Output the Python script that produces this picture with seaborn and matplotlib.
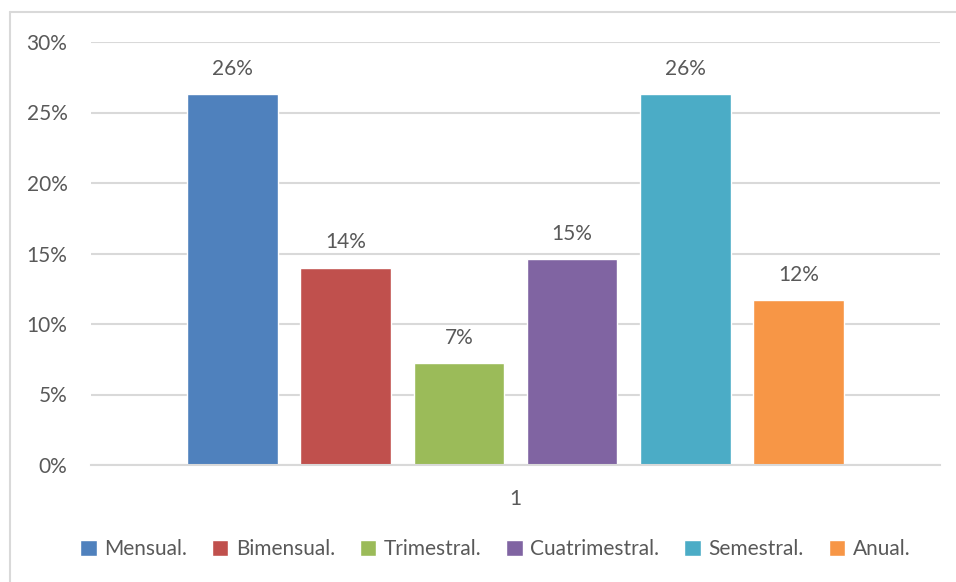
import matplotlib
matplotlib.use("Agg")
import matplotlib.pyplot as plt
from matplotlib.lines import Line2D
from matplotlib.ticker import FuncFormatter, MultipleLocator
import seaborn as sns
import pandas as pd

# Data
category = ["1"]
series = ["Mensual.", "Bimensual.", "Trimestral.", "Cuatrimestral.", "Semestral.", "Anual."]
values = [26.3, 14.0, 7.2, 14.6, 26.3, 11.7]
colors = ["#4F81BD", "#C0504D", "#9BBB59", "#8064A2", "#4BACC6", "#F79646"]

df = pd.DataFrame({"cat": category * len(series), "serie": series, "valor": values})

sns.set_theme(style="white")
plt.rcParams["font.family"] = ["Lato", "DejaVu Sans"]
text_color = "#595959"
grid_color = "#D9D9D9"
fs = 15

fig = plt.figure(figsize=(9.56, 5.82), dpi=100)
ax = fig.add_axes([91 / 956, (582 - 465) / 582, (940 - 91) / 956, (465 - 42) / 582])

sns.barplot(data=df, x="cat", y="valor", hue="serie", hue_order=series,
            palette=colors, width=0.8, gap=0.2, saturation=1, ax=ax, legend=True)

ax.set_xlim(-0.5, 0.5)
ax.set_ylim(0, 30)
ax.yaxis.set_major_locator(MultipleLocator(5))
ax.yaxis.set_major_formatter(FuncFormatter(lambda v, p: f"{v:.0f}%"))
ax.grid(axis="y", color=grid_color, linewidth=1.5)
ax.set_axisbelow(True)
for s in ["top", "right", "left"]:
    ax.spines[s].set_visible(False)
ax.spines["bottom"].set_color(grid_color)
ax.spines["bottom"].set_linewidth(1.5)
ax.tick_params(axis="both", length=0, colors=text_color, labelsize=fs)
ax.tick_params(axis="y", pad=17)
ax.tick_params(axis="x", pad=17)
ax.set_xlabel("")
ax.set_ylabel("")

for cont, v in zip(ax.containers, values):
    ax.bar_label(cont, labels=[f"{v:.0f}%"], padding=11, fontsize=fs, color=text_color)

handles, labels = ax.get_legend_handles_labels()
ax.legend(handles, labels, loc="center", bbox_to_anchor=((495 - 91) / 849, (549 - 465) / -423),
          ncol=6, frameon=False, fontsize=fs, handlelength=0.8, handleheight=0.8,
          handletextpad=0.35, columnspacing=1.2, labelcolor=text_color)

# chart-area border (left and top edges)
fig.add_artist(Line2D([10 / 956, 10 / 956], [0, 1 - 12 / 582], transform=fig.transFigure,
                      color=grid_color, linewidth=1.5))
fig.add_artist(Line2D([10 / 956, 1], [1 - 12 / 582, 1 - 12 / 582], transform=fig.transFigure,
                      color=grid_color, linewidth=1.5))

fig.savefig("out.png", dpi=100, facecolor="white")
